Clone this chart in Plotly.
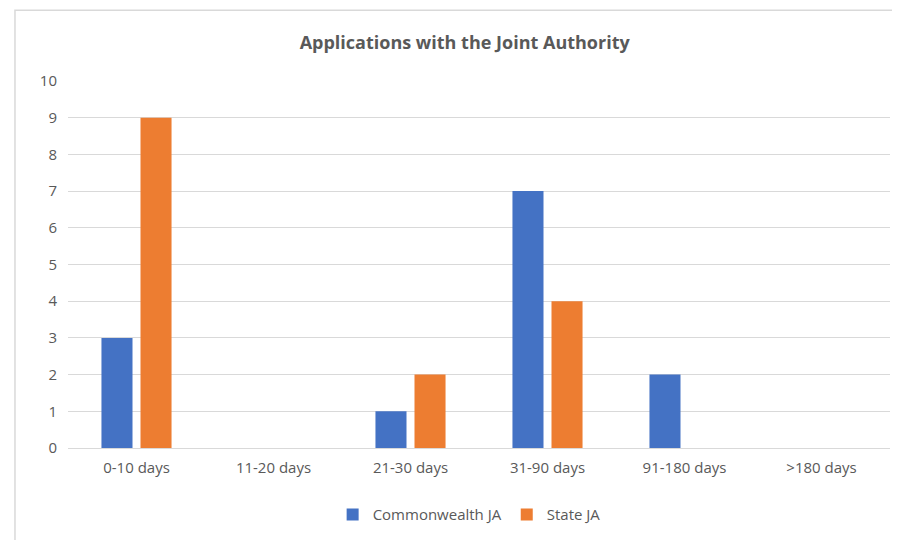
import plotly.graph_objects as go

BLUE = '#4472C4'; ORANGE = '#ED7D31'; GRID = '#D9D9D9'; TXT = '#595959'

categories = ['0-10 days', '11-20 days', '21-30 days', '31-90 days', '91-180 days', '>180 days']
commonwealth = [3, 0, 1, 7, 2, 0]
state = [9, 0, 2, 4, 0, 0]

fig = go.Figure()
fig.add_trace(go.Bar(x=categories, y=commonwealth, name='Commonwealth JA',
                     marker=dict(color=BLUE, line=dict(width=0))))
fig.add_trace(go.Bar(x=categories, y=state, name='State JA',
                     marker=dict(color=ORANGE, line=dict(width=0))))

# page body has an 8px margin, so the figure is sized 892x532
fig.update_layout(
    width=892, height=532,
    plot_bgcolor='white', paper_bgcolor='white',
    font=dict(family='Open Sans', size=15, color=TXT),
    title=dict(text='<b>Applications with the Joint Authority</b>', x=0.512, xanchor='center',
               y=1 - 35 / 532, yanchor='middle', font=dict(size=18, color=TXT)),
    margin=dict(l=60, r=10, t=73, b=91),
    barmode='group', bargap=0.43, bargroupgap=0.205,
    showlegend=True,
    legend=dict(orientation='h', x=0.488, xanchor='center', y=-0.179, yanchor='middle',
                font=dict(size=15, color=TXT), traceorder='normal', itemwidth=30),
    xaxis=dict(showgrid=False, showline=True, linecolor=GRID, linewidth=1, ticks='',
               tickfont=dict(size=15, color=TXT), ticklabelstandoff=6),
    yaxis=dict(range=[0, 10], dtick=1, showgrid=True, gridcolor=GRID, zeroline=False,
               tickfont=dict(size=15, color=TXT), ticklabelstandoff=10),
)
fig.add_shape(type='rect', xref='paper', yref='paper', x0=-0.0645, x1=1.03, y0=-0.35, y1=1.193,
              line=dict(color=GRID, width=1.5), layer='below')
fig.write_html('out.html')
